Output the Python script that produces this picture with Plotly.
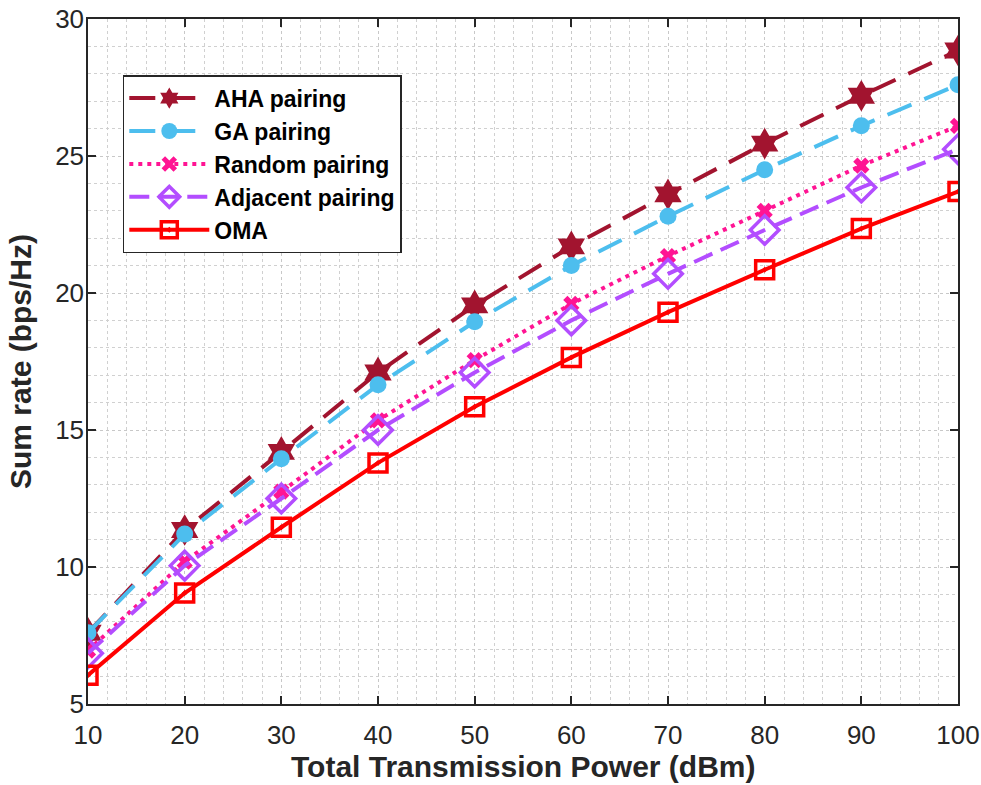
import plotly.graph_objects as go

power = [10, 20, 30, 40, 50, 60, 70, 80, 90, 100]
aha = [7.6, 11.35, 14.2, 17.1, 19.55, 21.7, 23.6, 25.45, 27.2, 28.85]
ga = [7.6, 11.2, 13.95, 16.65, 18.95, 21.0, 22.8, 24.5, 26.1, 27.6]
rnd = [6.95, 10.2, 12.75, 15.35, 17.55, 19.6, 21.35, 23.0, 24.65, 26.1]
adj = [6.85, 10.05, 12.5, 15.0, 17.1, 19.0, 20.7, 22.3, 23.85, 25.25]
oma = [6.05, 9.05, 11.45, 13.8, 15.85, 17.65, 19.3, 20.85, 22.35, 23.7]

x_ticks = [10, 20, 30, 40, 50, 60, 70, 80, 90, 100]
y_ticks = [5, 10, 15, 20, 25, 30]
x_title = "Total Transmission Power (dBm)"
y_title = "Sum rate (bps/Hz)"

series = [
    ("AHA pairing", aha, "#A2142F", "26px,14px", "hexagram", 24, 0),
    ("GA pairing", ga, "#4DBEEE", "26px,14px", "circle", 17, 0),
    ("Random pairing", rnd, "#FF1493", "4px,5px", "x-thin", 12, 0),
    ("Adjacent pairing", adj, "#B34DFF", "20px,9px", "diamond-open", 22, 3.5),
    ("OMA", oma, "#FF0000", "solid", "square-open-dot", 18, 3.5),
]

fig = go.Figure()
for name, vals, color, dash, sym, size, mlw in series:
    marker = dict(symbol=sym, size=size, color=color)
    if sym == "x-thin":
        marker["line"] = dict(color=color, width=6)
    else:
        marker["line"] = dict(color=color, width=mlw if mlw else 0)
    fig.add_trace(go.Scatter(
        x=power, y=vals, name=name, mode="lines+markers",
        line=dict(color=color, width=4, dash=dash),
        marker=marker,
    ))

axis_common = dict(
    showline=True, linecolor="#262626", linewidth=1.5, mirror="ticks",
    ticks="inside", ticklen=8, tickcolor="#262626", tickwidth=1.5,
    showgrid=True, gridcolor="#C8C8C8", griddash="dot", gridwidth=1,
    zeroline=False, automargin=False, ticklabeloverflow="allow",
    tickfont=dict(family="Liberation Sans, Arial", size=26, color="#262626"),
)

title_font = dict(family="Liberation Sans, Arial", size=30, color="#262626")

fig.update_xaxes(
    range=[10, 100], tickvals=x_ticks, ticklabelstandoff=7,
    minor=dict(dtick=2, showgrid=True, gridcolor="#D0D0D0", griddash="dot", gridwidth=1, ticks=""),
    **axis_common,
)
fig.update_yaxes(
    range=[5, 30], tickvals=y_ticks, ticklabelstandoff=-3,
    title=dict(text="<b>" + y_title + "</b>", font=title_font),
    minor=dict(dtick=1, showgrid=True, gridcolor="#D0D0D0", griddash="dot", gridwidth=1, ticks=""),
    **axis_common,
)

fig.add_annotation(
    text="<b>" + x_title + "</b>", xref="paper", yref="paper",
    x=0.5, y=-0.091, xanchor="center", yanchor="middle",
    showarrow=False, font=title_font,
)

fig.update_layout(
    width=981, height=785,
    margin=dict(l=88, r=23, t=19, b=81),
    plot_bgcolor="white", paper_bgcolor="white",
    legend=dict(
        x=0.04, y=0.918, xanchor="left", yanchor="top",
        bgcolor="white", bordercolor="#262626", borderwidth=1.5,
        font=dict(family="Liberation Sans, Arial", size=23, color="black", weight="bold"),
        itemwidth=80, tracegroupgap=0,
    ),
    showlegend=True,
)

fig.write_html(
    "out.html",
    config={"displayModeBar": False},
    post_script="document.body.style.margin='0';document.body.style.overflow='hidden';",
)
